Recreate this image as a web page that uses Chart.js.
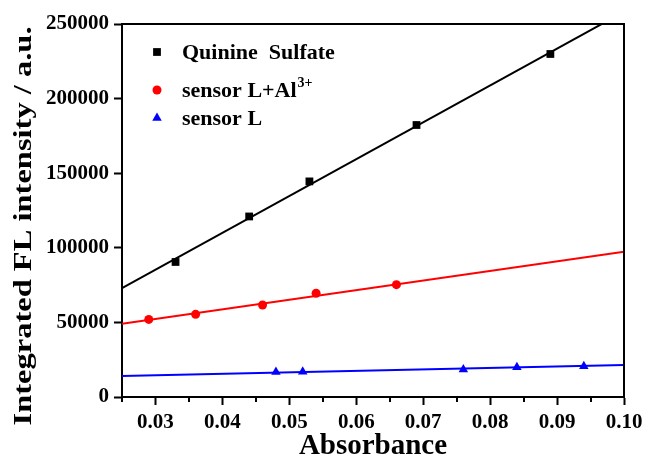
<!DOCTYPE html>
<html>
<head>
<meta charset="utf-8">
<script src="https://cdn.jsdelivr.net/npm/chart.js@4/dist/chart.umd.min.js"></script>
<style>
body { margin: 0; background: #fff; }
#wrap { width: 646px; height: 464px; }
</style>
</head>
<body>
<div id="wrap"><canvas id="chart"></canvas></div>
<script>
// measured points
var qsX = [0.033, 0.044, 0.053, 0.069, 0.089];
var qsY = [90500, 121000, 144500, 182300, 229900];
var alX = [0.029, 0.036, 0.046, 0.054, 0.066];
var alY = [52000, 55400, 61700, 69500, 75300];
var lX = [0.048, 0.052, 0.076, 0.084, 0.094];
var lY = [16800, 16900, 18500, 19900, 20600];

// linear fits, evaluated at both ends of the x range
var fitX = [0.025, 0.10];
var qsFit = [73000, 258200];
var alFit = [49100, 97400];
var lFit = [14100, 21500];

var legendNames = ['Quinine  Sulfate', 'sensor L+Al', 'sensor L'];
var legendSups = ['', '3+', ''];
var yTitle = 'Integrated FL intensity / a.u.';
var xTitle = 'Absorbance';

var serif = '"Liberation Serif", "Times New Roman", serif';

function pts(xs, ys) {
    return xs.map(function(x, i) { return { x: x, y: ys[i] }; });
}
function isMajor(v) {
    return Math.round(v * 1000) % 10 === 0;
}

// top/right frame, minor x ticks, rotated y title and the legend
var extras = {
    id: 'extras',
    afterDraw: function(chart) {
        var ctx = chart.ctx, a = chart.chartArea, xs = chart.scales.x;
        ctx.save();
        ctx.strokeStyle = '#000';
        ctx.lineWidth = 2;
        ctx.beginPath();
        ctx.moveTo(a.left - 1, a.top);
        ctx.lineTo(a.right, a.top);
        ctx.lineTo(a.right, a.bottom);
        xs.ticks.forEach(function(t) {
            if (!isMajor(t.value)) {
                var px = Math.round(xs.getPixelForValue(t.value));
                ctx.moveTo(px, a.bottom);
                ctx.lineTo(px, a.bottom + 5);
            }
        });
        ctx.stroke();

        // y title, drawn by hand so it can be widened
        ctx.save();
        ctx.translate(25, 226);
        ctx.rotate(-Math.PI / 2);
        ctx.scale(1.3, 1);
        ctx.font = 'bold 25px ' + serif;
        ctx.fillStyle = '#000';
        ctx.textAlign = 'center';
        ctx.textBaseline = 'middle';
        ctx.fillText(yTitle, 0, 0);
        ctx.restore();

        // legend
        var rows = [52, 90, 118];
        var sets = chart.data.datasets.filter(function(d) { return d.legend; });
        sets.forEach(function(d, i) {
            var y = rows[i];
            ctx.fillStyle = d.pointBackgroundColor;
            ctx.beginPath();
            Chart.helpers.drawPoint(ctx, {
                pointStyle: d.pointStyle, radius: d.pointRadius, borderWidth: 0
            }, 157, y);
            ctx.fillStyle = '#000';
            ctx.font = 'bold 22px ' + serif;
            ctx.textAlign = 'left';
            ctx.textBaseline = 'middle';
            ctx.fillText(legendNames[i], 182, y + 1);
            if (legendSups[i]) {
                var w = ctx.measureText(legendNames[i]).width;
                ctx.font = 'bold 14px ' + serif;
                ctx.fillText(legendSups[i], 182 + w + 1, y - 7);
            }
        });
        ctx.restore();
    }
};

var ctx = document.getElementById('chart').getContext('2d');
new Chart(ctx, {
    type: 'scatter',
    data: {
        datasets: [{
            data: pts(fitX, qsFit), showLine: true, borderColor: '#000', borderWidth: 2,
            pointRadius: 0, order: 2
        }, {
            data: pts(fitX, alFit), showLine: true, borderColor: '#ff0000', borderWidth: 2,
            pointRadius: 0, order: 2
        }, {
            data: pts(fitX, lFit), showLine: true, borderColor: '#0000ff', borderWidth: 2,
            pointRadius: 0, order: 2
        }, {
            legend: true, data: pts(qsX, qsY), pointStyle: 'rect', pointRadius: 5.5,
            pointBackgroundColor: '#000', pointBorderWidth: 0, order: 1
        }, {
            legend: true, data: pts(alX, alY), pointStyle: 'circle', pointRadius: 4.5,
            pointBackgroundColor: '#ff0000', pointBorderWidth: 0, order: 1
        }, {
            legend: true, data: pts(lX, lY), pointStyle: 'triangle', pointRadius: 5.5,
            pointBackgroundColor: '#0000ff', pointBorderWidth: 0, order: 1
        }]
    },
    options: {
        responsive: true,
        maintainAspectRatio: false,
        animation: false,
        layout: { padding: { top: 24, right: 22, left: 0, bottom: 0 } },
        plugins: { legend: { display: false }, tooltip: { enabled: false } },
        scales: {
            x: {
                type: 'linear', min: 0.025, max: 0.10,
                border: { display: true, color: '#000', width: 2 },
                grid: {
                    drawOnChartArea: false, drawTicks: true, tickLength: 8, tickWidth: 2,
                    tickColor: function(c) { return c.tick && isMajor(c.tick.value) ? '#000' : 'rgba(0,0,0,0)'; }
                },
                ticks: {
                    stepSize: 0.005, autoSkip: false, maxRotation: 0, padding: 5, color: '#000',
                    font: { family: serif, size: 21, weight: 'bold' },
                    callback: function(v) { return isMajor(v) ? v.toFixed(2) : ''; }
                },
                title: {
                    display: true, text: xTitle, color: '#000', padding: { top: 0, bottom: 0 },
                    font: { family: serif, size: 29, weight: 'bold' }
                },
                afterFit: function(s) {
                    s.height = 67;
                    s.paddingLeft = 0;
                    s.paddingRight = 0;
                }
            },
            y: {
                type: 'linear', min: 0, max: 250000,
                border: { display: true, color: '#000', width: 2 },
                grid: { drawOnChartArea: false, drawTicks: true, tickLength: 8, tickWidth: 2, color: '#000' },
                ticks: {
                    stepSize: 50000, padding: 5, color: '#000',
                    font: { family: serif, size: 21, weight: 'bold' },
                    callback: function(v) { return String(v); }
                },
                afterFit: function(s) {
                    s.width = 122;
                    s.paddingTop = 0;
                    s.paddingBottom = 0;
                }
            }
        }
    },
    plugins: [extras]
});
</script>
</body>
</html>
